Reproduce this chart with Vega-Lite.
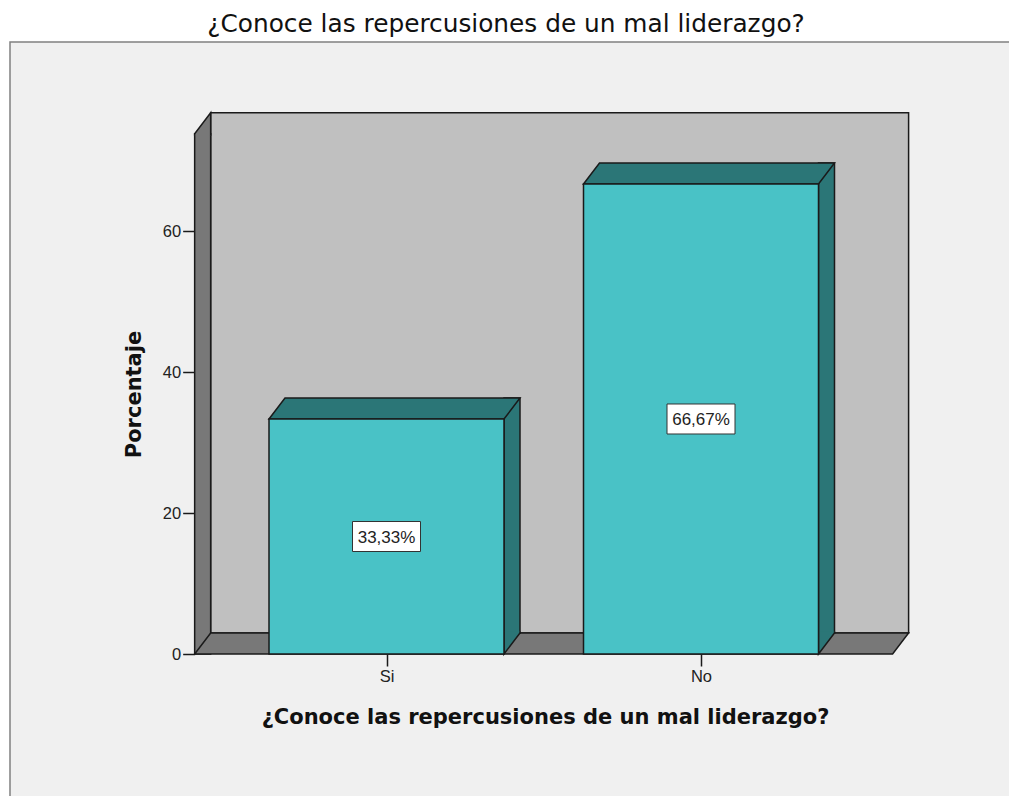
{
  "$schema": "https://vega.github.io/schema/vega-lite/v6.json",
  "autosize": "none",
  "width": 999,
  "height": 754,
  "padding": {"left": 10, "top": 42, "right": 0, "bottom": 0},
  "background": "white",
  "config": {
    "view": {"fill": "#f0f0f0", "stroke": "#808080", "strokeWidth": 1.5, "strokeDash": [999, 1753, 754]}
  },
  "title": {
    "text": "¿Conoce las repercusiones de un mal liderazgo?",
    "font": "DejaVu Sans",
    "fontSize": 24.8,
    "fontWeight": "normal",
    "color": "#111111",
    "anchor": "middle",
    "frame": "group",
    "baseline": "alphabetic",
    "offset": 7,
    "dx": -3.5,
    "dy": 22
  },
  "data": {
    "values": [
      {"cat": "Si", "pct": 33.33, "label": "33,33%"},
      {"cat": "No", "pct": 66.67, "label": "66,67%"}
    ]
  },
  "layer": [
    {
      "layer": [
        {
          "data": {"values": [{}]},
          "mark": {"type": "rect", "fill": "#c0c0c0", "stroke": "#1a1a1a", "strokeWidth": 1.5, "xOffset": -175.84, "x2Offset": 207.6, "yOffset": -21, "y2Offset": -21},
          "encoding": {
            "x": {
              "datum": "Si", "type": "nominal",
              "scale": {"type": "point", "domain": ["Si", "No"], "range": [376.5, 691], "padding": 0},
              "axis": {
                "orient": "bottom", "offset": -142, "domain": false, "grid": false,
                "tickSize": 12, "tickWidth": 1.5, "tickColor": "#1a1a1a",
                "labelFont": "Liberation Sans", "labelFontSize": 16.5, "labelColor": "#222222", "labelPadding": 2, "labelAngle": 0,
                "title": "¿Conoce las repercusiones de un mal liderazgo?",
                "titleFont": "DejaVu Sans", "titleFontSize": 21, "titleFontWeight": "bold", "titleColor": "#111111",
                "titleX": 535, "titleY": 69.5, "titleBaseline": "alphabetic", "titleAlign": "center"
              }
            },
            "x2": {"datum": "No"},
            "y": {
              "datum": 0, "type": "quantitative",
              "scale": {"domain": [0, 80], "range": [612, 48], "nice": false, "zero": true},
              "axis": {
                "orient": "left", "offset": -184.66, "values": [0, 20, 40, 60], "domain": false, "grid": false,
                "tickSize": 12, "tickWidth": 1.5, "tickColor": "#1a1a1a",
                "labelFont": "Liberation Sans", "labelFontSize": 16.5, "labelColor": "#222222", "labelPadding": 2,
                "title": "Porcentaje",
                "titleFont": "DejaVu Sans", "titleFontSize": 21, "titleFontWeight": "bold", "titleColor": "#111111",
                "titleX": -54.4, "titleY": 352, "titleAngle": -90, "titleBaseline": "alphabetic", "titleAlign": "center"
              }
            },
            "y2": {"datum": 73.8}
          }
        },
        {
          "data": {"values": [{}]},
          "mark": {"type": "rect", "fill": "#787878", "stroke": "#1a1a1a", "strokeWidth": 1.5, "width": 16, "xOffset": -183.84},
          "encoding": {
            "x": {"datum": "Si", "type": "nominal"},
            "y": {"datum": 0, "type": "quantitative"},
            "y2": {"datum": 73.8}
          }
        },
        {
          "data": {"values": [{}]},
          "mark": {"type": "point", "shape": "M16,2 L16,-21 L0,0 L0,2", "size": 4, "filled": true, "fill": "#787878", "stroke": "#1a1a1a", "strokeWidth": 1.5, "opacity": 1, "xOffset": -191.84},
          "encoding": {
            "x": {"datum": "Si", "type": "nominal"},
            "y": {"datum": 73.8, "type": "quantitative"}
          }
        },
        {
          "data": {"values": [{}]},
          "mark": {"type": "point", "shape": "M-191.84,0 L-175.84,-21 L522.1,-21 L506.1,0 Z", "size": 4, "filled": true, "fill": "#787878", "stroke": "#1a1a1a", "strokeWidth": 1.5, "opacity": 1},
          "encoding": {
            "x": {"datum": "Si", "type": "nominal"},
            "y": {"datum": 0, "type": "quantitative"}
          }
        },
        {
          "mark": {"type": "bar", "width": 16, "xOffset": 125.5, "yOffset": -21, "y2Offset": -21, "fill": "#2b7677", "stroke": "#1a1a1a", "strokeWidth": 1.5},
          "encoding": {
            "x": {"field": "cat", "type": "nominal"},
            "y": {"field": "pct", "type": "quantitative"}
          }
        },
        {
          "mark": {"type": "point", "shape": "M117.5,-22.5 L117.5,0 L133.5,-21 L133.5,-22.5", "size": 4, "filled": true, "fill": "#2b7677", "stroke": "#1a1a1a", "strokeWidth": 1.5, "opacity": 1},
          "encoding": {
            "x": {"field": "cat", "type": "nominal"},
            "y": {"datum": 0, "type": "quantitative"}
          }
        },
        {
          "mark": {"type": "point", "shape": "M-117.5,0 L-101.5,-21 L133.5,-21 L117.5,0 Z", "size": 4, "filled": true, "fill": "#2b7677", "stroke": "#1a1a1a", "strokeWidth": 1.5, "opacity": 1},
          "encoding": {
            "x": {"field": "cat", "type": "nominal"},
            "y": {"field": "pct", "type": "quantitative"}
          }
        },
        {
          "mark": {"type": "bar", "width": 235, "fill": "#49c2c6", "stroke": "#1a1a1a", "strokeWidth": 1.5},
          "encoding": {
            "x": {"field": "cat", "type": "nominal"},
            "y": {"field": "pct", "type": "quantitative"}
          }
        }
      ]
    },
    {
      "layer": [
        {
          "mark": {"type": "point", "shape": "M-34,-15 L34,-15 L34,15 L-34,15 Z", "size": 4, "filled": true, "fill": "white", "stroke": "#333333", "strokeWidth": 1, "opacity": 1},
          "encoding": {
            "x": {"field": "cat", "type": "nominal"},
            "y": {"field": "pct", "type": "quantitative", "scale": {"domain": [0, 160], "range": [612, 48], "nice": false, "zero": true}, "axis": null}
          }
        },
        {
          "mark": {"type": "text", "font": "Liberation Sans", "fontSize": 17, "color": "#222222", "baseline": "middle", "align": "center", "dy": 1},
          "encoding": {
            "x": {"field": "cat", "type": "nominal"},
            "y": {"field": "pct", "type": "quantitative"},
            "text": {"field": "label"}
          }
        }
      ]
    }
  ],
  "resolve": {"scale": {"y": "independent"}}
}
